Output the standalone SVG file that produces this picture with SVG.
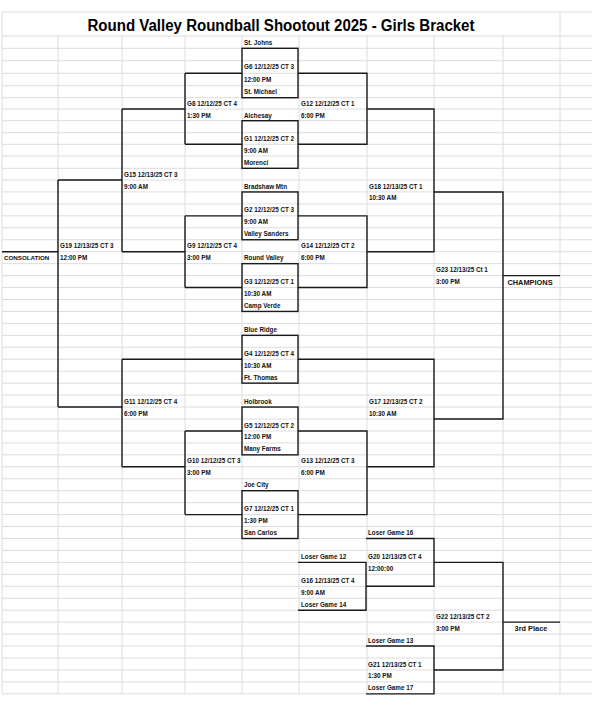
<svg xmlns="http://www.w3.org/2000/svg" width="592" height="717" viewBox="0 0 592 717">
<style>
.grid line{stroke:#dcdcdc;stroke-width:1}
.ln{fill:none;stroke:#1a1a1a;stroke-width:1.4}
text{font-family:"Liberation Sans",Arial,sans-serif;font-weight:bold;fill:#111}
.s{font-size:6.3px}
.tm{font-size:6.3px}
.c{font-size:6.2px}
.big{font-size:7.4px}
.title{font-size:16px;fill:#000}
</style>
<rect width="592" height="717" fill="#fff"/>
<g id="grid" class="grid">
<line x1="2" y1="12" x2="592" y2="12"/>
<line x1="2" y1="36" x2="592" y2="36"/>
<line x1="2" y1="48.3" x2="592" y2="48.3"/>
<line x1="2" y1="60.7" x2="592" y2="60.7"/>
<line x1="2" y1="73.3" x2="592" y2="73.3"/>
<line x1="2" y1="85.7" x2="592" y2="85.7"/>
<line x1="2" y1="97.7" x2="592" y2="97.7"/>
<line x1="2" y1="109" x2="592" y2="109"/>
<line x1="2" y1="120.7" x2="592" y2="120.7"/>
<line x1="2" y1="132.7" x2="592" y2="132.7"/>
<line x1="2" y1="144.3" x2="592" y2="144.3"/>
<line x1="2" y1="156" x2="592" y2="156"/>
<line x1="2" y1="168.3" x2="592" y2="168.3"/>
<line x1="2" y1="180" x2="592" y2="180"/>
<line x1="2" y1="191.95" x2="592" y2="191.95"/>
<line x1="2" y1="203.9" x2="592" y2="203.9"/>
<line x1="2" y1="215.85" x2="592" y2="215.85"/>
<line x1="2" y1="227.8" x2="592" y2="227.8"/>
<line x1="2" y1="239.75" x2="592" y2="239.75"/>
<line x1="2" y1="251.7" x2="592" y2="251.7"/>
<line x1="2" y1="263.65" x2="592" y2="263.65"/>
<line x1="2" y1="275.6" x2="592" y2="275.6"/>
<line x1="2" y1="287.55" x2="592" y2="287.55"/>
<line x1="2" y1="299.5" x2="592" y2="299.5"/>
<line x1="2" y1="311.45" x2="592" y2="311.45"/>
<line x1="2" y1="323.4" x2="592" y2="323.4"/>
<line x1="2" y1="335.35" x2="592" y2="335.35"/>
<line x1="2" y1="347.3" x2="592" y2="347.3"/>
<line x1="2" y1="359.25" x2="592" y2="359.25"/>
<line x1="2" y1="371.2" x2="592" y2="371.2"/>
<line x1="2" y1="383.15" x2="592" y2="383.15"/>
<line x1="2" y1="395.1" x2="592" y2="395.1"/>
<line x1="2" y1="407.05" x2="592" y2="407.05"/>
<line x1="2" y1="419" x2="592" y2="419"/>
<line x1="2" y1="430.95" x2="592" y2="430.95"/>
<line x1="2" y1="442.9" x2="592" y2="442.9"/>
<line x1="2" y1="454.85" x2="592" y2="454.85"/>
<line x1="2" y1="466.8" x2="592" y2="466.8"/>
<line x1="2" y1="478.75" x2="592" y2="478.75"/>
<line x1="2" y1="490.7" x2="592" y2="490.7"/>
<line x1="2" y1="502.65" x2="592" y2="502.65"/>
<line x1="2" y1="514.6" x2="592" y2="514.6"/>
<line x1="2" y1="526.55" x2="592" y2="526.55"/>
<line x1="2" y1="538.5" x2="592" y2="538.5"/>
<line x1="2" y1="550.45" x2="592" y2="550.45"/>
<line x1="2" y1="562.4" x2="592" y2="562.4"/>
<line x1="2" y1="574.35" x2="592" y2="574.35"/>
<line x1="2" y1="586.3" x2="592" y2="586.3"/>
<line x1="2" y1="598.25" x2="592" y2="598.25"/>
<line x1="2" y1="610.2" x2="592" y2="610.2"/>
<line x1="2" y1="622.15" x2="592" y2="622.15"/>
<line x1="2" y1="634.1" x2="592" y2="634.1"/>
<line x1="2" y1="646.05" x2="592" y2="646.05"/>
<line x1="2" y1="658" x2="592" y2="658"/>
<line x1="2" y1="669.95" x2="592" y2="669.95"/>
<line x1="2" y1="681.9" x2="592" y2="681.9"/>
<line x1="2" y1="693.85" x2="592" y2="693.85"/>
<line x1="2" y1="12" x2="2" y2="694"/>
<line x1="58" y1="36" x2="58" y2="694"/>
<line x1="122" y1="36" x2="122" y2="694"/>
<line x1="185" y1="36" x2="185" y2="694"/>
<line x1="242" y1="36" x2="242" y2="694"/>
<line x1="299" y1="36" x2="299" y2="694"/>
<line x1="367" y1="36" x2="367" y2="694"/>
<line x1="434" y1="36" x2="434" y2="694"/>
<line x1="503" y1="36" x2="503" y2="694"/>
<line x1="560" y1="12" x2="560" y2="694"/>
</g>
<text class="title" x="281" y="31" text-anchor="middle" textLength="387" lengthAdjust="spacingAndGlyphs">Round Valley Roundball Shootout 2025 - Girls Bracket</text>

<g id="connectors" class="ln">
<path d="M185,73.3H242M185,73.3V144.3M185,144.3H242"/>
<path d="M185,215.85H242M185,215.85V287.55M185,287.55H242"/>
<path d="M185,430.95H242M185,430.95V514.6M185,514.6H242"/>
<path d="M122,109H185M122,109V251.7M122,251.7H185"/>
<path d="M122,359.25H242M122,359.25V466.8M122,466.8H185"/>
<path d="M58,180H122M58,180V407.05M58,407.05H122"/>
<path d="M2,251.7H58"/>
<path d="M298,73.3H367V144.3H298"/>
<path d="M298,215.85H367V287.55H298"/>
<path d="M298,430.95H367V514.6H298"/>
<path d="M367,109H434V251.7H367"/>
<path d="M298,359.25H434V466.8H367"/>
<path d="M434,191.95H503V419H434"/>
<path d="M503,275.6H560"/>
<path d="M298,562.4H366V610.2H298"/>
<path d="M366,538.5H434V586.3H366"/>
<path d="M366,646.05H434V693.85H366"/>
<path d="M434,562.4H503V669.95H434"/>
<path d="M503,622.15H560"/>
</g>

<g id="G6"><rect class="ln" x="242" y="48.3" width="56" height="49.4"/>
<text class="tm" x="244" y="44.8">St. Johns</text>
<text class="s" x="244" y="69.2">G6 12/12/25 CT 3</text>
<text class="s" x="244" y="81.6">12:00 PM</text>
<text class="tm" x="244" y="94">St. Michael</text></g>
<g id="G1"><rect class="ln" x="242" y="120.7" width="56" height="47.6"/>
<text class="tm" x="244" y="117.5">Alchesay</text>
<text class="s" x="244" y="141.3">G1 12/12/25 CT 2</text>
<text class="s" x="244" y="152.9">9:00 AM</text>
<text class="tm" x="244" y="164.9">Morenci</text></g>
<g id="G2"><rect class="ln" x="242" y="191.95" width="56" height="47.8"/>
<text class="tm" x="244" y="188.5">Bradshaw Mtn</text>
<text class="s" x="244" y="212.4">G2 12/12/25 CT 3</text>
<text class="s" x="244" y="224.3">9:00 AM</text>
<text class="tm" x="244" y="236.3">Valley Sanders</text></g>
<g id="G3"><rect class="ln" x="242" y="263.65" width="56" height="47.8"/>
<text class="tm" x="244" y="260.2">Round Valley</text>
<text class="s" x="244" y="284.1">G3 12/12/25 CT 1</text>
<text class="s" x="244" y="296">10:30 AM</text>
<text class="tm" x="244" y="308">Camp Verde</text></g>
<g id="G4"><rect class="ln" x="242" y="335.35" width="56" height="47.8"/>
<text class="tm" x="244" y="331.9">Blue Ridge</text>
<text class="s" x="244" y="355.8">G4 12/12/25 CT 4</text>
<text class="s" x="244" y="367.7">10:30 AM</text>
<text class="tm" x="244" y="379.7">Ft. Thomas</text></g>
<g id="G5"><rect class="ln" x="242" y="407.05" width="56" height="47.8"/>
<text class="tm" x="244" y="403.6">Holbrook</text>
<text class="s" x="244" y="427.5">G5 12/12/25 CT 2</text>
<text class="s" x="244" y="439.4">12:00 PM</text>
<text class="tm" x="244" y="451.4">Many Farms</text></g>
<g id="G7"><rect class="ln" x="242" y="490.7" width="56" height="47.8"/>
<text class="tm" x="244" y="487.3">Joe City</text>
<text class="s" x="244" y="511.2">G7 12/12/25 CT 1</text>
<text class="s" x="244" y="523.1">1:30 PM</text>
<text class="tm" x="244" y="535">San Carlos</text></g>

<g id="G8"><text class="s" x="187" y="106.1">G8 12/12/25 CT 4</text><text class="s" x="187" y="117.5">1:30 PM</text></g>
<g id="G9"><text class="s" x="187" y="248.3">G9 12/12/25 CT 4</text><text class="s" x="187" y="260.2">3:00 PM</text></g>
<g id="G10"><text class="s" x="187" y="463.4">G10 12/12/25 CT 3</text><text class="s" x="187" y="475.3">3:00 PM</text></g>
<g id="G15"><text class="s" x="124" y="176.8">G15 12/13/25 CT 3</text><text class="s" x="124" y="188.5">9:00 AM</text></g>
<g id="G11"><text class="s" x="124" y="403.6">G11 12/12/25 CT 4</text><text class="s" x="124" y="415.5">6:00 PM</text></g>
<g id="G19"><text class="s" x="60" y="248.3">G19 12/13/25 CT 3</text><text class="s" x="60" y="260.2">12:00 PM</text></g>
<g id="consolation"><text class="c" x="4" y="260.2">CONSOLATION</text></g>

<g id="G12"><text class="s" x="301" y="106.1">G12 12/12/25 CT 1</text><text class="s" x="301" y="117.5">6:00 PM</text></g>
<g id="G14"><text class="s" x="301" y="248.3">G14 12/12/25 CT 2</text><text class="s" x="301" y="260.2">6:00 PM</text></g>
<g id="G13"><text class="s" x="301" y="463.4">G13 12/12/25 CT 3</text><text class="s" x="301" y="475.3">6:00 PM</text></g>
<g id="G18"><text class="s" x="369" y="188.5">G18 12/13/25 CT 1</text><text class="s" x="369" y="200.4">10:30 AM</text></g>
<g id="G17"><text class="s" x="369" y="403.6">G17 12/13/25 CT 2</text><text class="s" x="369" y="415.5">10:30 AM</text></g>
<g id="G23"><text class="s" x="436" y="272.1">G23 12/13/25 Ct 1</text><text class="s" x="436" y="284.1">3:00 PM</text></g>
<g id="champions"><text class="big" x="530" y="284.6" text-anchor="middle">CHAMPIONS</text></g>

<g id="G16"><text class="tm" x="301" y="559">Loser Game 12</text>
<text class="s" x="301" y="582.9">G16 12/13/25 CT 4</text>
<text class="s" x="301" y="594.8">9:00 AM</text>
<text class="tm" x="301" y="606.8">Loser Game 14</text></g>
<g id="G20"><text class="tm" x="368" y="535">Loser Game 16</text>
<text class="s" x="368" y="559">G20 12/13/25 CT 4</text>
<text class="s" x="368" y="570.9">12:00:00</text></g>
<g id="G21"><text class="tm" x="368" y="642.6">Loser Game 13</text>
<text class="s" x="368" y="666.5">G21 12/13/25 CT 1</text>
<text class="s" x="368" y="678.4">1:30 PM</text>
<text class="tm" x="368" y="690.4">Loser Game 17</text></g>
<g id="G22"><text class="s" x="436" y="618.7">G22 12/13/25 CT 2</text><text class="s" x="436" y="630.7">3:00 PM</text></g>
<g id="third"><text class="big" x="531" y="631" text-anchor="middle">3rd Place</text></g>
</svg>
